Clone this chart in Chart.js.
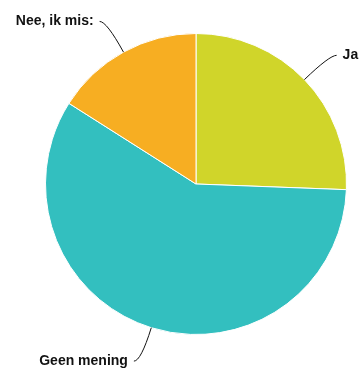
<!DOCTYPE html>
<html>
<head>
<meta charset="utf-8">
<script src="https://cdn.jsdelivr.net/npm/chart.js@4"></script>
<style>
  html, body { margin: 0; padding: 0; background: #fff; }
  #wrap { width: 363px; height: 369px; }
</style>
</head>
<body>
<div id="wrap"><canvas id="pieChart" width="363" height="369"></canvas></div>
<script>
const labels = ['Ja', 'Geen mening', 'Nee, ik mis:'];
const values = [25.6, 58.4, 16.0];
const colors = ['#d0d52a', '#33bfbf', '#f7ae22'];

// labels outside the pie, joined with a curved leader line
const outsideLabels = {
  id: 'outsideLabels',
  afterDraw(chart) {
    const ctx = chart.ctx;
    const meta = chart.getDatasetMeta(0);
    ctx.save();
    ctx.font = 'bold 14px "Liberation Sans", Arial, sans-serif';
    ctx.fillStyle = '#111';
    ctx.strokeStyle = '#111';
    ctx.lineWidth = 1;
    ctx.textBaseline = 'middle';
    meta.data.forEach((arc, i) => {
      const p = arc.getProps(['x', 'y', 'startAngle', 'endAngle', 'outerRadius'], true);
      const mid = (p.startAngle + p.endAngle) / 2;
      const cos = Math.cos(mid), sin = Math.sin(mid);
      const sx = p.x + cos * p.outerRadius;
      const sy = p.y + sin * p.outerRadius;
      const cx = p.x + cos * (p.outerRadius + 35);
      const cy = p.y + sin * (p.outerRadius + 35);
      const right = cos >= 0;
      const ex = cx + (right ? 7 : -7);
      ctx.beginPath();
      ctx.moveTo(sx, sy);
      ctx.quadraticCurveTo(cx, cy, ex, cy);
      ctx.stroke();
      ctx.textAlign = right ? 'left' : 'right';
      ctx.fillText(chart.data.labels[i], ex + (right ? 6 : -6), cy);
    });
    ctx.restore();
  }
};

new Chart(document.getElementById('pieChart'), {
  type: 'pie',
  data: {
    labels,
    datasets: [{
      data: values,
      backgroundColor: colors,
      borderColor: '#fff',
      borderWidth: 1
    }]
  },
  options: {
    responsive: false,
    animation: false,
    layout: { padding: { top: 33, bottom: 34, left: 45, right: 16 } },
    plugins: {
      legend: { display: false },
      tooltip: { enabled: false }
    }
  },
  plugins: [outsideLabels]
});
</script>
</body>
</html>
